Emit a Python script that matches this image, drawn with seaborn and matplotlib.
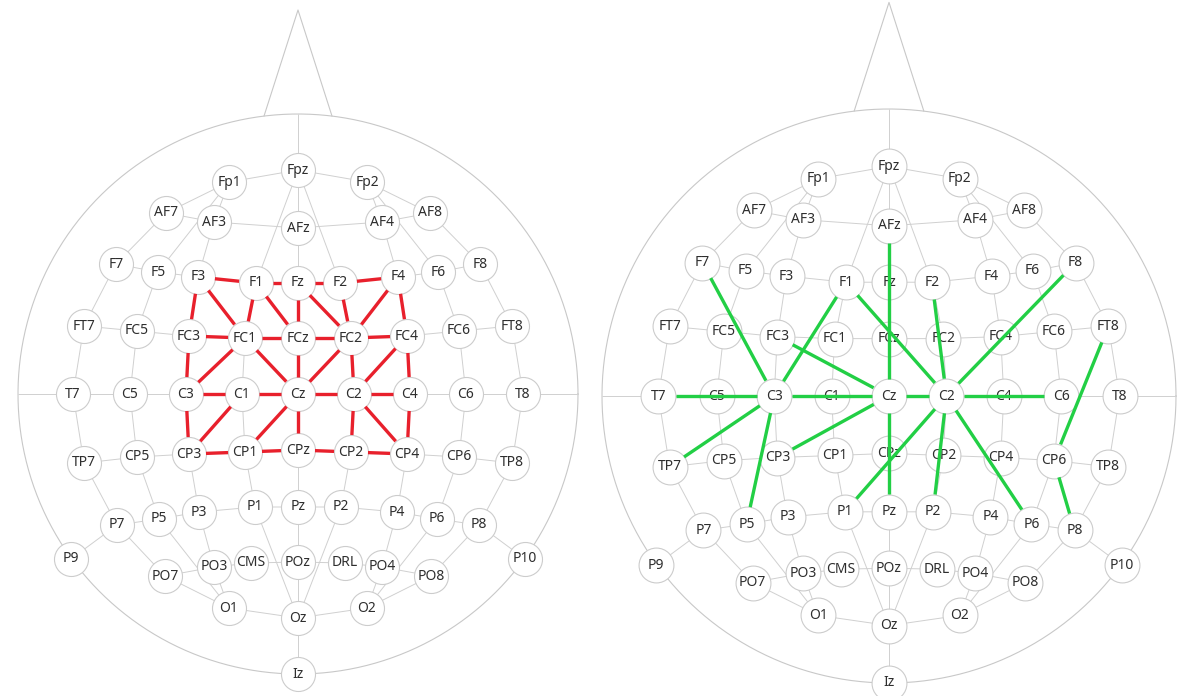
import numpy as np
import pandas as pd
import matplotlib
matplotlib.use("Agg")
import matplotlib.pyplot as plt
import seaborn as sns
from matplotlib.collections import LineCollection

# ---- electrode layout (offsets from Cz, head radius = 280 units, y grows downward) ----
names = ["Fpz", "Fp1", "Fp2",
         "AF7", "AF3", "AFz", "AF4", "AF8",
         "F7", "F5", "F3", "F1", "Fz", "F2", "F4", "F6", "F8",
         "FT7", "FC5", "FC3", "FC1", "FCz", "FC2", "FC4", "FC6", "FT8",
         "T7", "C5", "C3", "C1", "Cz", "C2", "C4", "C6", "T8",
         "TP7", "CP5", "CP3", "CP1", "CPz", "CP2", "CP4", "CP6", "TP8",
         "P7", "P5", "P3", "P1", "Pz", "P2", "P4", "P6", "P8",
         "P9", "P10",
         "PO7", "PO3", "CMS", "POz", "DRL", "PO4", "PO8",
         "O1", "Oz", "O2", "Iz"]
x_off = [0, -69, 69,
         -132, -84, 0, 84, 132,
         -182, -140, -100, -42, 0, 42, 100, 140, 182,
         -214, -161, -109, -53, 0, 53, 109, 161, 214,
         -225, -168, -112, -56, 0, 56, 112, 168, 225,
         -214, -161, -109, -53, 0, 53, 109, 161, 214,
         -181, -139, -99, -43, 0, 43, 99, 139, 181,
         -227, 227,
         -133, -84, -47, 0, 47, 84, 133,
         -69, 0, 69, 0]
y_off = [-224, -212, -212,
         -181, -172, -166, -172, -181,
         -130, -122, -117, -111, -111, -111, -117, -122, -130,
         -68, -63, -58, -56, -56, -56, -58, -63, -68,
         0, 0, 0, 0, 0, 0, 0, 0, 0,
         69, 63, 60, 58, 56, 58, 60, 63, 69,
         131, 125, 118, 113, 113, 113, 118, 125, 131,
         165, 165,
         182, 173, 169, 168, 169, 173, 182,
         214, 224, 214, 280]

# ---- scaffold lines of the 10-10 layout ----
rows = [["Fp1", "Fpz", "Fp2"],
        ["AF7", "AF3", "AFz", "AF4", "AF8"],
        ["F7", "F5", "F3", "F1", "Fz", "F2", "F4", "F6", "F8"],
        ["FT7", "FC5", "FC3", "FC1", "FCz", "FC2", "FC4", "FC6", "FT8"],
        ["TP7", "CP5", "CP3", "CP1", "CPz", "CP2", "CP4", "CP6", "TP8"],
        ["P9", "P7", "P5", "P3", "P1", "Pz", "P2", "P4", "P6", "P8", "P10"],
        ["PO7", "PO3", "CMS", "POz", "DRL", "PO4", "PO8"],
        ["O1", "Oz", "O2"]]
meridians = [["Fp1", "AF7", "F7", "FT7", "T7", "TP7", "P7", "PO7", "O1"],
             ["Fp1", "F5", "FC5", "C5", "CP5", "P5", "O1"],
             ["Fp1", "AF3", "F3", "FC3", "C3", "CP3", "P3", "PO3", "O1"],
             ["Fpz", "F1", "FC1", "C1", "CP1", "P1", "Oz"],
             ["Fp2", "AF8", "F8", "FT8", "T8", "TP8", "P8", "PO8", "O2"],
             ["Fp2", "F6", "FC6", "C6", "CP6", "P6", "O2"],
             ["Fp2", "AF4", "F4", "FC4", "C4", "CP4", "P4", "PO4", "O2"],
             ["Fpz", "F2", "FC2", "C2", "CP2", "P2", "Oz"]]

# ---- connections of each montage ----
red_pairs = [("F3", "F1"), ("F1", "Fz"), ("Fz", "F2"), ("F2", "F4"),
             ("F3", "FC3"), ("F3", "FC1"), ("F1", "FC1"), ("F1", "FCz"),
             ("Fz", "FCz"), ("Fz", "FC2"), ("F2", "FC2"), ("F4", "FC2"), ("F4", "FC4"),
             ("FC3", "FC1"), ("FC1", "FCz"), ("FCz", "FC2"), ("FC2", "FC4"),
             ("FC3", "C3"), ("FC1", "C3"), ("FC1", "Cz"), ("FCz", "Cz"),
             ("FC2", "Cz"), ("FC2", "C2"), ("FC4", "C2"), ("FC4", "C4"),
             ("C3", "C1"), ("C1", "Cz"), ("Cz", "C2"), ("C2", "C4"),
             ("C3", "CP3"), ("C1", "CP3"), ("Cz", "CP1"), ("Cz", "CPz"),
             ("C2", "CP2"), ("C2", "CP4"), ("C4", "CP4"),
             ("CP3", "CP1"), ("CP1", "CPz"), ("CPz", "CP2"), ("CP2", "CP4")]
green_pairs = [("AFz", "Cz"), ("F7", "C3"), ("F1", "C3"), ("F1", "C2"),
               ("F2", "C2"), ("F8", "C2"), ("FT8", "CP6"), ("CP6", "P8"),
               ("T7", "C3"), ("C3", "Cz"), ("Cz", "C2"), ("C2", "C6"),
               ("C3", "TP7"), ("C3", "P5"), ("FC3", "Cz"), ("Cz", "CP3"),
               ("Cz", "Pz"), ("C2", "P1"), ("C2", "P2"), ("C2", "P6")]

HEAD_R = 280
NOSE_TIP = 384
NOSE_HALF = 34
ELEC_R = 17

GRID = "#d0d0d0"
OUTLINE = "#c8c8c8"
TEXT = "#2e2e2e"

sns.set_theme(style="white")
plt.rcParams["font.family"] = ["Noto Sans", "DejaVu Sans"]

W, H = 1194, 696
fig = plt.figure(figsize=(W / 100, H / 100), dpi=100)
ax = fig.add_axes([0, 0, 1, 1])
ax.set_xlim(0, W)
ax.set_ylim(H, 0)
ax.set_aspect("equal")
ax.axis("off")

base = pd.DataFrame({"name": names, "dx": x_off, "dy": y_off})


def draw_head(cx, cy, k, pairs, color):
    df = base.copy()
    df["px"] = cx + k * df["dx"]
    df["py"] = cy + k * df["dy"]
    pos = dict(zip(df["name"], zip(df["px"], df["py"])))

    # head outline and nose
    t = np.linspace(0, 2 * np.pi, 400)
    ax.plot(cx + k * HEAD_R * np.cos(t), cy + k * HEAD_R * np.sin(t),
            color=OUTLINE, lw=0.8, zorder=1)
    ny = np.sqrt(HEAD_R ** 2 - NOSE_HALF ** 2)
    ax.plot([cx - k * NOSE_HALF, cx, cx + k * NOSE_HALF],
            [cy - k * ny, cy - k * NOSE_TIP, cy - k * ny],
            color=OUTLINE, lw=0.8, zorder=1)

    # midline and coronal line
    segs = [[(cx, cy - k * HEAD_R), pos["Iz"]],
            [(cx - k * HEAD_R, cy), (cx + k * HEAD_R, cy)]]
    for chain in rows + meridians:
        segs.append([pos[n] for n in chain])
    ax.add_collection(LineCollection(segs, colors=GRID, linewidths=0.7, zorder=1))

    # electrodes
    sns.scatterplot(data=df, x="px", y="py", s=(2 * ELEC_R * k * 0.72) ** 2,
                    color="white", edgecolor="#cccccc", linewidth=0.8,
                    ax=ax, zorder=3, legend=False)
    for n, (px, py) in pos.items():
        ax.text(px, py, n, ha="center", va="center", fontsize=10,
                color=TEXT, zorder=4)

    # connections, trimmed to the electrode rims
    conn = []
    for a, b in pairs:
        p, q = np.array(pos[a]), np.array(pos[b])
        u = (q - p) / np.linalg.norm(q - p)
        conn.append([p + u * ELEC_R * k, q - u * ELEC_R * k])
    ax.add_collection(LineCollection(conn, colors=color, linewidths=2.4,
                                     capstyle="butt", zorder=5))


draw_head(298, 394, 1.0, red_pairs, "#e8202c")
draw_head(889, 396, 1.025, green_pairs, "#22cf45")

ax.set_xlabel("")
ax.set_ylabel("")
fig.savefig("out.png", dpi=100)
